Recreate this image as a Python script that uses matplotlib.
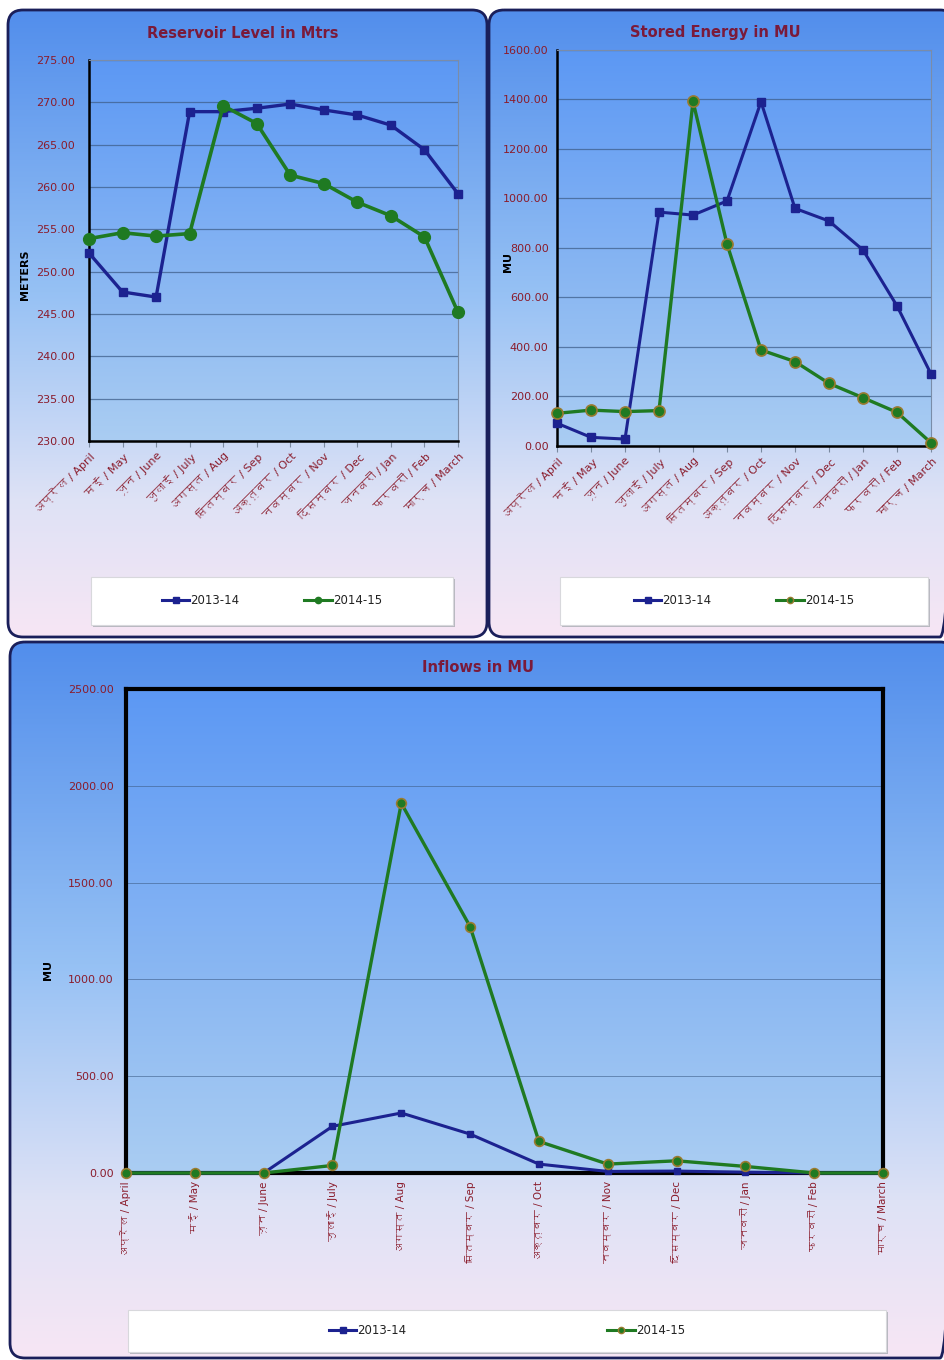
import numpy as np
import matplotlib
matplotlib.use("Agg")
import matplotlib.pyplot as plt
from matplotlib import font_manager
from matplotlib.ft2font import FT2Font
from matplotlib.patches import FancyBboxPatch, Rectangle
from matplotlib.lines import Line2D

# ---------------------------------------------------------------- data
months = ["अप्रैल / April", "मई / May", "जून / June", "जुलाई / July",
          "अगस्त / Aug", "सितम्बर / Sep", "अक्तूबर / Oct", "नवम्बर / Nov",
          "दिसम्बर / Dec", "जनवरी / Jan", "फरवरी / Feb", "मार्च / March"]
series_names = ["2013-14", "2014-15"]

level_1314 = [252.2, 247.6, 247.0, 268.9, 268.9, 269.3, 269.8, 269.1,
              268.5, 267.3, 264.4, 259.2]
level_1415 = [253.9, 254.6, 254.2, 254.5, 269.6, 267.5, 261.4, 260.4,
              258.2, 256.6, 254.1, 245.2]

energy_1314 = [92, 35, 28, 945, 933, 990, 1391, 960, 909, 792, 566, 291]
energy_1415 = [132, 145, 139, 143, 1392, 816, 388, 341, 253, 195, 136, 13]

inflow_1314 = [0, 0, 0, 241, 310, 201, 46, 8, 10, 4, 0, 0]
inflow_1415 = [0, 0, 0, 39, 1910, 1273, 163, 46, 63, 34, 0, 0]

level_ticks = np.arange(230, 276, 5)
energy_ticks = np.arange(0, 1601, 200)
inflow_ticks = np.arange(0, 2501, 500)

# ---------------------------------------------------------------- fonts
def find_devanagari_family():
    checked = set()
    for entry in font_manager.fontManager.ttflist:
        if entry.fname in checked:
            continue
        checked.add(entry.fname)
        try:
            cmap = FT2Font(entry.fname).get_charmap()
        except Exception:
            continue
        if 0x0905 in cmap and 0x092E in cmap and 0x0941 in cmap:
            return entry.name
    return None

deva = find_devanagari_family()
# Latin text in DejaVu Sans, Devanagari falls through to the second family
label_family = ["DejaVu Sans", deva] if deva else ["DejaVu Sans"]
plt.rcParams["font.family"] = ["DejaVu Sans"]

# ---------------------------------------------------------------- style
W, H = 945, 1360
BLUE = "#1c2290"
GREEN = "#1f7a22"
TICK_RED = "#8a1c2c"
TITLE_RED = "#7a1a3a"
GRID = "#3f5f8a"


def vgrad(stops, n=256):
    pos = np.array([s[0] for s in stops])
    cols = np.array([s[1] for s in stops], dtype=float) / 255.0
    t = np.linspace(0, 1, n)
    arr = np.stack([np.interp(t, pos, cols[:, k]) for k in range(3)], axis=1)
    return arr[:, None, :]


panel_grad = vgrad([(0.0, (82, 142, 236)), (0.45, (150, 193, 244)),
                    (0.78, (222, 226, 246)), (1.0, (247, 230, 244))])
plot_grad = vgrad([(0.0, (92, 152, 244)), (1.0, (170, 205, 242))])

fig = plt.figure(figsize=(W / 100, H / 100), dpi=100)
fig.patch.set_facecolor("white")
bg = fig.add_axes([0, 0, 1, 1])
bg.axis("off")


def panel(l, t, r, b):
    box = FancyBboxPatch((l, t), r - l, b - t,
                         boxstyle="round,pad=0,rounding_size=15",
                         facecolor="none", edgecolor="#1a1f5a", lw=2.0,
                         zorder=3)
    bg.add_patch(box)
    im = bg.imshow(panel_grad, extent=(l, r, b, t), aspect="auto",
                   origin="upper", zorder=1, interpolation="bilinear")
    im.set_clip_path(box)


def plot_bg(l, t, r, b, grad=plot_grad):
    bg.imshow(grad, extent=(l, r, b, t), aspect="auto", origin="upper",
              zorder=2, interpolation="bilinear")


def legend_box(l, t, r, b, handles, spacing):
    bg.add_patch(Rectangle((l + 2, t + 2), r - l, b - t, facecolor="#b8b8c0",
                           edgecolor="none", zorder=3))
    bg.add_patch(Rectangle((l, t), r - l, b - t, facecolor="white",
                           edgecolor="#d8d8dc", lw=0.8, zorder=4))
    fig.legend(handles=handles, labels=series_names, loc="center",
               bbox_to_anchor=((l + r) / 2 / W, 1 - (t + b) / 2 / H),
               ncol=2, frameon=False, fontsize=8.5, handlelength=2.3,
               handletextpad=0.1, columnspacing=spacing,
               labelcolor="#222222")


def px_axes(l, t, r, b):
    ax = fig.add_axes([l / W, 1 - b / H, (r - l) / W, (b - t) / H])
    ax.set_facecolor("none")
    return ax


def style_axes(ax, ticks, heavy_frame=False, rotation=45, ypad=8):
    ax.set_xlim(0, len(months) - 1)
    ax.set_ylim(ticks[0], ticks[-1])
    ax.set_yticks(ticks)
    ax.set_yticklabels([f"{v:.2f}" for v in ticks])
    ax.set_xticks(range(len(months)))
    ax.yaxis.grid(True, color=GRID, lw=0.9, alpha=0.75)
    ax.set_axisbelow(True)
    ax.tick_params(axis="y", length=0, pad=ypad, labelsize=8,
                   labelcolor=TICK_RED)
    ax.tick_params(axis="x", length=4, color="#7a8aa0", pad=3)
    for sp in ax.spines.values():
        sp.set_zorder(5)
    if heavy_frame:
        for sp in ax.spines.values():
            sp.set_color("black")
            sp.set_linewidth(3)
    else:
        ax.spines["left"].set_color("black")
        ax.spines["left"].set_linewidth(1.8)
        ax.spines["bottom"].set_color("black")
        ax.spines["bottom"].set_linewidth(1.8)
        ax.spines["top"].set_color("#7a8ca8")
        ax.spines["top"].set_linewidth(0.8)
        ax.spines["right"].set_color("#7a8ca8")
        ax.spines["right"].set_linewidth(0.8)
    if rotation == 45:
        ax.set_xticklabels(months, rotation=45, ha="right", va="top",
                           rotation_mode="anchor", fontsize=8,
                           color=TICK_RED, family=label_family)
    else:
        ax.set_xticklabels(months, rotation=90, ha="right", va="center",
                           rotation_mode="anchor", fontsize=7.5,
                           color=TICK_RED, family=label_family)


# ---------------------------------------------------------------- panels
panel(8, 10, 487, 637)
panel(489, 10, 955, 637)
panel(10, 642, 955, 1358)

plot_bg(89, 60, 458, 441)
plot_bg(557, 50, 931, 446)
plot_bg(126, 689, 883, 1173)

x = np.arange(len(months))

# Reservoir level
ax1 = px_axes(89, 60, 458, 441)
b1, = ax1.plot(x, level_1314, color=BLUE, lw=2.4, marker="s", ms=6,
               mfc=BLUE, mec=BLUE, clip_on=False, zorder=6)
g1, = ax1.plot(x, level_1415, color=GREEN, lw=2.6, marker="o", ms=8.5,
               mfc=GREEN, mec=GREEN, clip_on=False, zorder=7)
style_axes(ax1, level_ticks, ypad=10)
fig.text(243 / W, 1 - 34 / H, "Reservoir Level in Mtrs", ha="center",
         va="center", fontsize=10.5, fontweight="bold", color=TITLE_RED)
fig.text(25 / W, 1 - 275 / H, "METERS", rotation=90, ha="center",
         va="center", fontsize=8, fontweight="bold", color="black")

# Stored energy
ax2 = px_axes(557, 50, 931, 446)
b2, = ax2.plot(x, energy_1314, color=BLUE, lw=2.2, marker="s", ms=6,
               mfc=BLUE, mec=BLUE, clip_on=False, zorder=6)
g2, = ax2.plot(x, energy_1415, color=GREEN, lw=2.4, marker="o", ms=8,
               mfc=GREEN, mec="#9a7a30", mew=1.2, clip_on=False, zorder=7)
style_axes(ax2, energy_ticks, ypad=6)
fig.text(715 / W, 1 - 32 / H, "Stored Energy in MU", ha="center",
         va="center", fontsize=10.5, fontweight="bold", color=TITLE_RED)
fig.text(508 / W, 1 - 262 / H, "MU", rotation=90, ha="center",
         va="center", fontsize=8, fontweight="bold", color="black")

# Inflows
ax3 = px_axes(126, 689, 883, 1173)
b3, = ax3.plot(x, inflow_1314, color=BLUE, lw=2.2, marker="s", ms=5,
               mfc=BLUE, mec=BLUE, clip_on=False, zorder=6)
g3, = ax3.plot(x, inflow_1415, color=GREEN, lw=2.4, marker="o", ms=7,
               mfc=GREEN, mec="#9a7a30", mew=1.2, clip_on=False, zorder=7)
style_axes(ax3, inflow_ticks, heavy_frame=True, rotation=90, ypad=9)
ax3.yaxis.grid(True, color=GRID, lw=0.7, alpha=0.6)
ax3.tick_params(axis="x", length=0, pad=6)
fig.text(478 / W, 1 - 667 / H, "Inflows in MU", ha="center",
         va="center", fontsize=10.5, fontweight="bold", color=TITLE_RED)
fig.text(48 / W, 1 - 970 / H, "MU", rotation=90, ha="center",
         va="center", fontsize=8, fontweight="bold", color="black")

# Legends
def handles_for(ms_b, ms_g, edge_g):
    return [Line2D([], [], color=BLUE, lw=2.2, marker="s", ms=ms_b),
            Line2D([], [], color=GREEN, lw=2.2, marker="o", ms=ms_g,
                   mfc=GREEN, mec=edge_g)]

legend_box(91, 577, 453, 625, handles_for(4.5, 4.5, GREEN), 5.5)
legend_box(560, 577, 928, 625, handles_for(4.5, 4.5, "#9a7a30"), 5.5)
legend_box(128, 1310, 886, 1352, handles_for(4.5, 4.5, "#9a7a30"), 17)

bg.set_xlim(0, W)
bg.set_ylim(H, 0)

fig.savefig("out.png", dpi=100, facecolor="white")
